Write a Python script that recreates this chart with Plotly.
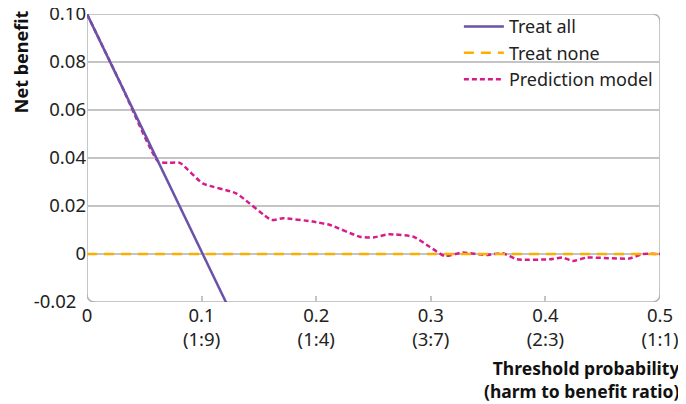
import plotly.graph_objects as go

# Data
treat_all_x = [0.0, 0.05, 0.101, 0.125]
treat_all_y = [0.100, 0.0505, 0.0, -0.0238]

treat_none_x = [0.0, 0.5]
treat_none_y = [0.0, 0.0]

pred_x = [0.0, 0.03, 0.062, 0.071, 0.081, 0.101, 0.13, 0.161, 0.171, 0.197, 0.212,
          0.238, 0.25, 0.263, 0.285, 0.299, 0.312, 0.328, 0.348, 0.363, 0.375, 0.404,
          0.415, 0.424, 0.436, 0.473, 0.485, 0.5]
pred_y = [0.100, 0.0703, 0.0386, 0.038, 0.038, 0.0294, 0.0253, 0.0142, 0.0149, 0.0135, 0.0121,
          0.0072, 0.0069, 0.0082, 0.0072, 0.003, -0.0008, 0.0006, -0.0004, 0.0003, -0.0022, -0.0022,
          -0.0015, -0.0029, -0.0015, -0.0019, 0.0, 0.0]

x_tickvals = [0, 0.1, 0.2, 0.3, 0.4, 0.5]
x_ticktext = ["0", "0.1<br>(1:9)", "0.2<br>(1:4)", "0.3<br>(3:7)", "0.4<br>(2:3)", "0.5<br>(1:1)"]
y_tickvals = [-0.02, 0, 0.02, 0.04, 0.06, 0.08, 0.10]
y_ticktext = ["-0.02\u00a0\u00a0", "0", "0.02", "0.04", "0.06", "0.08", "0.10"]

FONT = "Noto Sans"
GRID = "#c4c4c4"
FS = 18.5

fig = go.Figure()
fig.add_trace(go.Scatter(x=pred_x, y=pred_y, mode="lines", name="Prediction model",
                         line=dict(color="#d81b8c", width=2.5, dash="5px,3px", shape="spline", smoothing=0.5),
                         legendrank=3))
fig.add_trace(go.Scatter(x=treat_none_x, y=treat_none_y, mode="lines", name="Treat none",
                         line=dict(color="#fbb000", width=2.5, dash="10px,7px"), legendrank=2))
fig.add_trace(go.Scatter(x=treat_all_x, y=treat_all_y, mode="lines", name="Treat all",
                         line=dict(color="#6a52a8", width=2.5), legendrank=1))

# rounded plot border
rx, ry = 0.007, 0.0034
x0, x1, y0, y1 = 0.0, 0.5, -0.02, 0.10
path = (f"M {x0},{y1} L {x1-rx},{y1} Q {x1},{y1} {x1},{y1-ry} "
        f"L {x1},{y0+ry} Q {x1},{y0} {x1-rx},{y0} "
        f"L {x0+rx},{y0} Q {x0},{y0} {x0},{y0+ry} Z")
fig.add_shape(type="path", path=path, xref="x", yref="y",
              line=dict(color="#b4b4b4", width=1.5), layer="below")

fig.add_annotation(text="<b>Net benefit</b>", x=-0.115, xref="paper", y=0.833, yref="paper",
                   xanchor="center", yanchor="middle",
                   showarrow=False, textangle=-90, font=dict(family=FONT, size=18, color="#111"))
fig.add_annotation(text="<b>Threshold probability<br>(harm to benefit ratio)</b>",
                   xref="paper", yref="paper", x=1.037, y=-0.18, xanchor="right", yanchor="top",
                   align="right", showarrow=False, font=dict(family=FONT, size=17.5, color="#111"))

# the page body adds an 8px offset, margins compensate so the plot area lands where the reference has it
fig.update_layout(
    width=686, height=404, autosize=False,
    margin=dict(l=79, r=34, t=6, b=110, autoexpand=False),
    paper_bgcolor="white", plot_bgcolor="white",
    font=dict(family=FONT, size=FS, color="#222"),
    showlegend=True,
    legend=dict(x=0.649, y=1.02, xanchor="left", yanchor="top", bgcolor="rgba(0,0,0,0)",
                font=dict(family=FONT, size=18, color="#222"), tracegroupgap=0,
                itemwidth=40, traceorder="normal"),
    xaxis=dict(range=[0, 0.5], tickvals=x_tickvals, ticktext=x_ticktext, showgrid=False,
               zeroline=False, showline=False, ticks="inside", ticklen=6, tickcolor=GRID,
               tickwidth=1.5, automargin=False, ticklabeloverflow="allow"),
    yaxis=dict(range=[-0.02, 0.10], tickvals=y_tickvals, ticktext=y_ticktext, showgrid=True,
               gridcolor=GRID, gridwidth=1.5, zeroline=False, showline=False, ticks="",
               automargin=False, ticklabeloverflow="allow"),
)

fig.write_html("out.html", config={"responsive": False})
